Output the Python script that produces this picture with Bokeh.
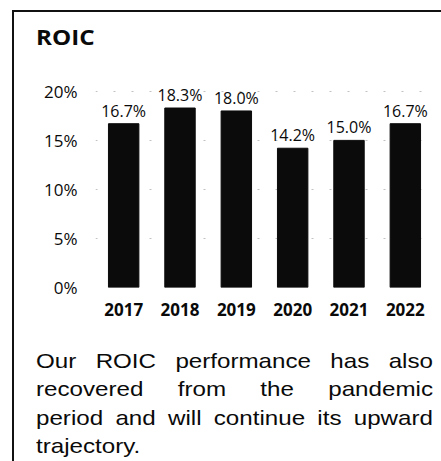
from bokeh.plotting import figure
from bokeh.models import ColumnDataSource, FactorRange, Range1d, FixedTicker, PrintfTickFormatter, LabelSet, Div
from bokeh.layouts import column
from bokeh.core.properties import value
from bokeh.embed import file_html
from bokeh.resources import INLINE

years = ["2017", "2018", "2019", "2020", "2021", "2022"]
roic = [16.7, 18.3, 18.0, 14.2, 15.0, 16.7]
value_labels = ["16.7%", "18.3%", "18.0%", "14.2%", "15.0%", "16.7%"]
y_ticks = [0, 5, 10, 15, 20]
title_text = "ROIC"
note_lines = ["Our ROIC performance has also",
              "recovered from the pandemic",
              "period and will continue its upward",
              "trajectory."]

CHART_FONT = "Open Sans"
STRETCH = 1.15
TEXT_W = 397
W = 441

source = ColumnDataSource(data=dict(year=years, roic=roic, label=value_labels))

title_div = Div(
    text=(f'<div style="font-family:\'Open Sans\';font-weight:bold;font-size:21px;'
          f'line-height:28px;padding:23px 0 0 36px;color:#0a0a0a;">'
          f'<div style="transform:scaleX({STRETCH});transform-origin:left;">{title_text}</div></div>'),
    width=W, height=60, margin=(0, 0, 0, 0))

p = figure(width=W, height=270, output_backend="svg", toolbar_location=None,
           x_range=FactorRange(factors=years, range_padding=0),
           y_range=Range1d(0, 20.8),
           min_border_left=95, min_border_right=8, min_border_top=23, min_border_bottom=43,
           margin=(0, 0, 0, 0))
p.outline_line_color = None
p.background_fill_color = None
p.border_fill_color = None

p.vbar(x="year", top="roic", width=0.54, source=source, color="#0b0b0b")

labels = LabelSet(x="year", y="roic", text="label", source=source,
                  text_align="center", text_baseline="alphabetic", y_offset=7,
                  text_font=value(CHART_FONT), text_font_size="16px", text_color="#0a0a0a")
p.add_layout(labels)

p.xgrid.grid_line_color = None
p.ygrid.ticker = FixedTicker(ticks=y_ticks)
p.ygrid.grid_line_color = "#777777"
p.ygrid.grid_line_dash = "2 16"
p.ygrid.grid_line_alpha = 0.45

p.yaxis.ticker = FixedTicker(ticks=y_ticks)
p.yaxis.formatter = PrintfTickFormatter(format="%d%%")
p.yaxis.axis_line_color = None
p.yaxis.major_tick_line_color = None
p.yaxis.minor_tick_line_color = None
p.yaxis.major_label_standoff = 12
p.yaxis.major_label_text_font = CHART_FONT
p.yaxis.major_label_text_font_size = "17px"
p.yaxis.major_label_text_color = "#0a0a0a"

p.xaxis.axis_line_color = None
p.xaxis.major_tick_line_color = None
p.xaxis.minor_tick_line_color = None
p.xaxis.major_label_standoff = 9
p.xaxis.major_label_text_font = CHART_FONT
p.xaxis.major_label_text_font_style = "bold"
p.xaxis.major_label_text_font_size = "17px"
p.xaxis.major_label_text_color = "#0a0a0a"

line_html = []
for i, ln in enumerate(note_lines):
    last = i == len(note_lines) - 1
    align = "left" if last else "justify"
    line_html.append(
        f'<div style="white-space:nowrap;text-align:{align};text-align-last:{align};'
        f'width:{TEXT_W / STRETCH:.1f}px;">{ln}</div>')
note_div = Div(
    text=(f'<div style="font-family:\'Liberation Sans\',Arial,sans-serif;font-size:21px;'
          f'line-height:28.3px;padding:17px 0 0 36px;color:#0a0a0a;">'
          f'<div style="transform:scaleX({STRETCH});transform-origin:left;">'
          + "".join(line_html) + '</div></div>'),
    width=W, height=131, margin=(0, 0, 0, 0))

frame_bg = ("linear-gradient(#111,#111) 12px 10px / 2px 100% no-repeat, "
            "linear-gradient(#111,#111) 12px 10px / 100% 2px no-repeat, white")

layout = column(title_div, p, note_div, spacing=0,
                styles={"background": frame_bg})

open("out.html", "w").write(file_html(layout, INLINE))
